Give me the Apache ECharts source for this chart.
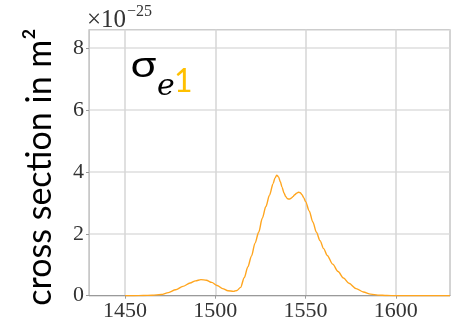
<!DOCTYPE html>
<html>
<head>
<meta charset="utf-8">
<script src="https://cdn.jsdelivr.net/npm/echarts@6/dist/echarts.min.js"></script>
<style>
  html, body { margin: 0; padding: 0; background: #fff; }
  #chart { width: 453px; height: 321px; }
</style>
</head>
<body>
<div id="chart"></div>
<script>
// Emission cross section sigma_e1 versus wavelength (nm), in units of 1e-25 m^2
const wavelength = [1450, 1455, 1460, 1465, 1470, 1474, 1478, 1482, 1486, 1489, 1492, 1495, 1498,
  1501, 1504, 1507, 1510, 1512, 1514, 1516, 1518, 1520, 1522, 1524, 1526, 1528, 1530, 1532,
  1533, 1534, 1535, 1536, 1537, 1538, 1539, 1540, 1541, 1542, 1543, 1544, 1545, 1546, 1547,
  1548, 1549, 1550, 1552, 1554, 1556, 1558, 1560, 1562, 1565, 1568, 1571, 1574, 1578, 1582,
  1586, 1590, 1595, 1600, 1610, 1620, 1630];
const sigmaE1 = [0, 0, 0.005, 0.015, 0.04, 0.1, 0.19, 0.3, 0.41, 0.48, 0.52, 0.5, 0.43,
  0.33, 0.23, 0.16, 0.14, 0.17, 0.27, 0.58, 0.93, 1.28, 1.7, 2.05, 2.5, 2.88, 3.25, 3.62,
  3.8, 3.89, 3.84, 3.68, 3.5, 3.32, 3.2, 3.13, 3.12, 3.15, 3.2, 3.26, 3.31, 3.34, 3.33,
  3.26, 3.16, 3.04, 2.74, 2.38, 2.05, 1.78, 1.52, 1.3, 1.02, 0.78, 0.57, 0.4, 0.23, 0.12,
  0.05, 0.02, 0.005, 0, 0, 0, 0];

const xRange = [1430, 1630];
const yRange = [0, 8.6];

const tickFont = 'Liberation Serif';
const chart = echarts.init(document.getElementById('chart'), null, { renderer: 'canvas' });

function textEl(opts, style) {
  return Object.assign({ type: 'text' }, opts, { style: style });
}

chart.setOption({
  animation: false,
  backgroundColor: '#fff',
  grid: {
    left: 89, right: 3, top: 29.5, bottom: 25.3,
    outerBoundsMode: 'none',
    containLabel: false,
    show: true, borderColor: '#9a9a9a', borderWidth: 1, backgroundColor: '#fff'
  },
  xAxis: {
    type: 'value',
    min: xRange[0], max: xRange[1],
    splitNumber: 4,
    axisLine: { show: true, lineStyle: { color: '#9a9a9a', width: 1 } },
    axisTick: { show: true, length: 3, lineStyle: { color: '#9a9a9a' } },
    splitLine: { show: true, lineStyle: { color: '#d6d6d6', width: 1.5 } },
    axisLabel: {
      showMinLabel: false, showMaxLabel: false,
      formatter: v => String(v),
      fontFamily: tickFont, fontSize: 22, color: '#333', margin: 5
    }
  },
  yAxis: {
    type: 'value',
    min: yRange[0], max: yRange[1],
    splitNumber: 4,
    axisLine: { show: true, lineStyle: { color: '#c8c8c8', width: 1 } },
    axisTick: { show: true, length: 3, lineStyle: { color: '#9a9a9a' } },
    splitLine: { show: true, lineStyle: { color: '#dedede', width: 1.5 } },
    axisLabel: {
      showMaxLabel: false,
      fontFamily: tickFont, fontSize: 22, color: '#333', margin: 5
    }
  },
  series: [{
    type: 'line',
    data: wavelength.map((w, i) => [w, sigmaE1[i]]),
    showSymbol: false,
    smooth: 0.3,
    smoothMonotone: 'x',
    lineStyle: { color: '#ffa51e', width: 1.4 },
    z: 3
  }],
  graphic: [
    textEl({ left: 87, top: 8 },
      { text: '×10', fontFamily: tickFont, fontSize: 25, fill: '#333' }),
    textEl({ left: 127, top: 4 },
      { text: '−25', fontFamily: tickFont, fontSize: 16, fill: '#333' }),
    textEl({ x: 40, y: 167, rotation: Math.PI / 2 },
      { text: 'cross section in m²', fontFamily: 'Lato', fontSize: 34, fill: '#000',
        align: 'center', verticalAlign: 'middle' }),
    textEl({ x: 130, y: 50, scaleX: 1.3 },
      { text: 'σ', fontFamily: 'Noto Sans', fontSize: 34, fill: '#000' }),
    textEl({ x: 157, y: 72 },
      { text: 'e', fontFamily: 'DejaVu Serif', fontStyle: 'italic', fontSize: 30, fill: '#000' }),
    textEl({ x: 174, y: 66 },
      { text: '1', fontFamily: 'Lato', fontSize: 32, fill: '#ffc000' })
  ]
});
</script>
</body>
</html>
